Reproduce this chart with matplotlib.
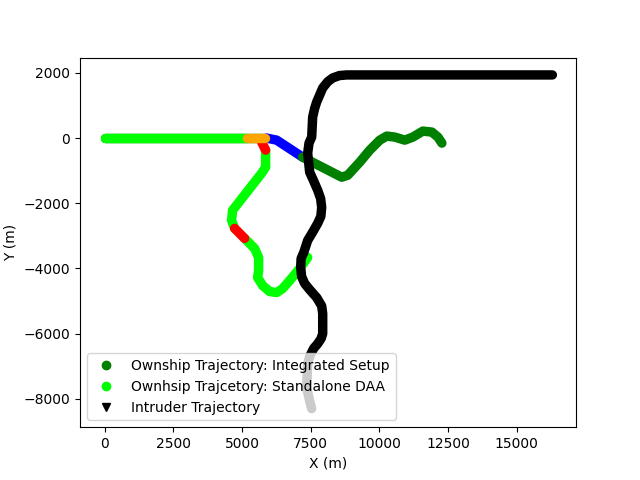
import numpy as np
import matplotlib
matplotlib.use("Agg")
import matplotlib.pyplot as plt
from matplotlib.lines import Line2D

# waypoints (metres)

# integrated setup ownship: shared straight leg, blue leg, then dark green
integ_x = [0, 5896]
integ_y = [0, 0]
blue_x = [5896, 6260, 7208]
blue_y = [0, -62, -585]
green_x = [7208, 8630, 8849, 9286, 9651, 10016, 10271, 10563, 10927, 11219, 11584, 11912, 12131, 12277]
green_y = [-585, -1200, -1138, -738, -369, -62, 62, 31, -62, 31, 215, 185, 31, -154]

# standalone DAA ownship (lime), with orange and red alert segments
lime1_x = [0, 5166]
lime1_y = [0, 0]
orange_x = [5166, 5822]
orange_y = [0, 0]
red1_x = [5713, 5859]
red1_y = [-123, -369]
lime2_x = [5859, 5859, 5859, 5713, 4656, 4620, 4729]
lime2_y = [-369, -585, -892, -1077, -2215, -2523, -2769]
red2_x = [4729, 5093]
red2_y = [-2769, -3077]
lime3_x = [5093, 5458, 5604, 5604, 5567, 5750, 6005, 6260, 6479, 6735, 7099, 7391]
lime3_y = [-3077, -3385, -3662, -4062, -4277, -4523, -4708, -4739, -4616, -4369, -4000, -3662]

# intruder (bottom end runs behind the legend)
intr_x = [7536, 7463, 7354, 7372, 7390, 7463, 7610, 7755, 7880, 7937, 7937, 7900, 7718, 7463,
          7281, 7170, 7135, 7150, 7250, 7390, 7560, 7755, 7870, 7900, 7860, 7755, 7600,
          7463, 7390, 7440, 7536, 7572, 7640, 7718, 7937, 8120, 8302, 8550, 8812, 16300]
intr_y = [-8300, -8062, -7662, -7300, -6923, -6700, -6450, -6308, -6150, -6000, -5385, -5150, -4892, -4650,
          -4462, -4250, -3969, -3700, -3500, -3139, -2900, -2615, -2400, -2123, -1850, -1600, -1300,
          -1046, -462, -150, 31, 646, 900, 1108, 1538, 1730, 1846, 1920, 1938, 1938]

fig, ax = plt.subplots(figsize=(6.4, 4.8), dpi=100)

lw = 6.8
kw = dict(linewidth=lw, solid_capstyle="round", solid_joinstyle="round")

ax.plot(integ_x, integ_y, color="green", **kw)
ax.plot(blue_x, blue_y, color="blue", **kw)
ax.plot(green_x, green_y, color="green", **kw)

ax.plot(lime1_x, lime1_y, color="lime", **kw)
ax.plot(lime2_x, lime2_y, color="lime", **kw)
ax.plot(lime3_x, lime3_y, color="lime", **kw)
ax.plot(red1_x, red1_y, color="red", **kw)
ax.plot(red2_x, red2_y, color="red", **kw)
ax.plot(orange_x, orange_y, color="orange", **kw)

ax.plot(intr_x, intr_y, color="black", **kw)

ax.set_xlim(-900, 17160)
ax.set_ylim(-8870, 2470)
ax.set_xlabel("X (m)")
ax.set_ylabel("Y (m)")

handles = [
    Line2D([], [], marker="o", linestyle="None", color="green", markersize=6),
    Line2D([], [], marker="o", linestyle="None", color="lime", markersize=6),
    Line2D([], [], marker="v", linestyle="None", color="black", markersize=6),
]
labels = ["Ownship Trajectory: Integrated Setup",
          "Ownhsip Trajcetory: Standalone DAA",
          "Intruder Trajectory"]
ax.legend(handles, labels, loc="lower left")

fig.savefig("out.png", dpi=100)
